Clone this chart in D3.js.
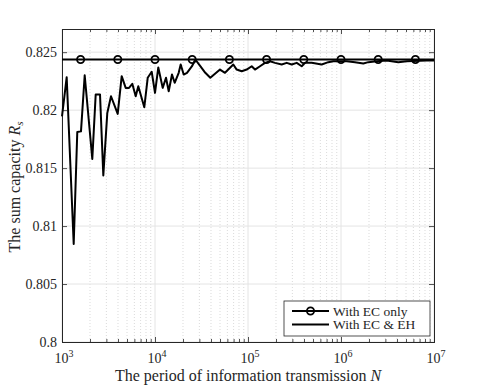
<!DOCTYPE html>
<html>
<head>
<meta charset="utf-8">
<script src="https://cdn.jsdelivr.net/npm/d3@7"></script>
<style>
  body { margin: 0; background: #fff; }
  svg { font-family: "Liberation Serif", "DejaVu Serif", serif; }
</style>
</head>
<body>
<svg id="chart"></svg>
<script>
// sum capacity with EC & EH (jagged curve)
const ehN = [1000, 1123, 1336, 1460, 1600, 1754, 2117, 2303, 2563, 2781, 3070, 3365, 3971, 4384, 4840, 5253,
  5700, 6201, 6612, 7672, 8347, 9216, 10000, 10850, 12100, 13130, 14040, 15230, 16280, 17980, 18890, 20350,
  22080, 24990, 27130, 30700, 34750, 39320, 50000, 56570, 69480, 75580, 85560, 96830, 109600, 118900, 134600,
  152300, 172400, 195100, 230300, 260700, 295100, 334000, 377900, 410200, 484000, 620100, 730100, 826400,
  975400, 1152000, 1414000, 1737000, 1966000, 2420000, 3100000, 4131000, 5087000, 8347000, 10000000];
const ehR = [0.81947, 0.82284, 0.80845, 0.81812, 0.81817, 0.82301, 0.81579, 0.82135, 0.82135, 0.81437, 0.81976,
  0.8212, 0.81968, 0.82293, 0.82192, 0.82192, 0.82227, 0.8212, 0.82206, 0.82025, 0.82279, 0.82331, 0.82149,
  0.82368, 0.82192, 0.82279, 0.82163, 0.82307, 0.82236, 0.82322, 0.82394, 0.82307, 0.82322, 0.82379, 0.82437,
  0.82379, 0.82322, 0.82279, 0.8235, 0.82322, 0.82394, 0.8235, 0.82336, 0.8235, 0.82379, 0.8235, 0.82379,
  0.82408, 0.82422, 0.82408, 0.82394, 0.82408, 0.82394, 0.82408, 0.82379, 0.82408, 0.82408, 0.82394, 0.82414,
  0.82422, 0.82422, 0.82422, 0.82414, 0.82402, 0.82414, 0.82422, 0.82428, 0.82414, 0.82422, 0.82428, 0.82428];

// EC only: flat line, markers every 0.4 decade
const ecN = [1000, 10000000];
const ecR = [0.82437, 0.82437];
const ecMarkerN = [1585, 3981, 10000, 25119, 63096, 158489, 398107, 1000000, 2511886, 6309573];

const yTicks = [0.8, 0.805, 0.81, 0.815, 0.82, 0.825];
const yTickLabels = ['0.8', '0.805', '0.81', '0.815', '0.82', '0.825'];
const xTicks = [1e3, 1e4, 1e5, 1e6, 1e7];
const xTickExp = ['3', '4', '5', '6', '7'];
const legendLabels = ['With EC only', 'With EC & EH'];

const width = 480, height = 385;
const margin = { left: 62, right: 46, top: 29, bottom: 43 };
const plotW = width - margin.left - margin.right;
const plotH = height - margin.top - margin.bottom;

const svg = d3.select('#chart')
  .attr('width', width)
  .attr('height', height);

const x = d3.scaleLog().domain([1e3, 1e7]).range([margin.left, margin.left + plotW]);
const y = d3.scaleLinear().domain([0.8, 0.827]).range([margin.top + plotH, margin.top]);

// minor ticks for the log axis
const minorX = [];
for (let e = 3; e < 7; e++) {
  for (let k = 2; k <= 9; k++) minorX.push(k * Math.pow(10, e));
}

const grid = svg.append('g');
grid.selectAll('.minor')
  .data(minorX)
  .enter()
  .append('line')
  .attr('x1', d => x(d)).attr('x2', d => x(d))
  .attr('y1', margin.top).attr('y2', margin.top + plotH)
  .attr('stroke', '#d0d0d0')
  .attr('stroke-width', 0.8)
  .attr('stroke-dasharray', '1,2');

grid.selectAll('.majorx')
  .data(xTicks)
  .enter()
  .append('line')
  .attr('x1', d => x(d)).attr('x2', d => x(d))
  .attr('y1', margin.top).attr('y2', margin.top + plotH)
  .attr('stroke', '#e4e4e4')
  .attr('stroke-width', 1);

grid.selectAll('.majory')
  .data(yTicks)
  .enter()
  .append('line')
  .attr('x1', margin.left).attr('x2', margin.left + plotW)
  .attr('y1', d => y(d)).attr('y2', d => y(d))
  .attr('stroke', '#e4e4e4')
  .attr('stroke-width', 1);

// axes, ticks pointing inward on all four sides
const axisColor = '#262626';
const xb = svg.append('g')
  .attr('transform', 'translate(0,' + (margin.top + plotH) + ')')
  .call(d3.axisTop(x).tickValues(xTicks).tickSize(5).tickFormat(''));
const xbm = svg.append('g')
  .attr('transform', 'translate(0,' + (margin.top + plotH) + ')')
  .call(d3.axisTop(x).tickValues(minorX).tickSize(3).tickFormat(''));
const xt = svg.append('g')
  .attr('transform', 'translate(0,' + margin.top + ')')
  .call(d3.axisBottom(x).tickValues(xTicks).tickSize(5).tickFormat(''));
const xtm = svg.append('g')
  .attr('transform', 'translate(0,' + margin.top + ')')
  .call(d3.axisBottom(x).tickValues(minorX).tickSize(3).tickFormat(''));
const yl = svg.append('g')
  .attr('transform', 'translate(' + margin.left + ',0)')
  .call(d3.axisRight(y).tickValues(yTicks).tickSize(5).tickFormat(''));
const yr = svg.append('g')
  .attr('transform', 'translate(' + (margin.left + plotW) + ',0)')
  .call(d3.axisLeft(y).tickValues(yTicks).tickSize(5).tickFormat(''));

[xb, xbm, xt, xtm, yl, yr].forEach(g => {
  g.selectAll('path').attr('stroke', axisColor).attr('stroke-width', 1);
  g.selectAll('line').attr('stroke', axisColor).attr('stroke-width', 0.8);
});

// y tick labels
svg.append('g')
  .selectAll('text')
  .data(yTicks)
  .enter()
  .append('text')
  .attr('x', margin.left - 5)
  .attr('y', d => y(d) + 5)
  .attr('text-anchor', 'end')
  .attr('font-size', 14)
  .attr('fill', '#262626')
  .text((d, i) => yTickLabels[i]);

// x tick labels 10^k
const xl = svg.append('g')
  .selectAll('text')
  .data(xTicks)
  .enter()
  .append('text')
  .attr('x', d => x(d) + 2)
  .attr('y', margin.top + plotH + 21)
  .attr('text-anchor', 'middle')
  .attr('font-size', 14)
  .attr('fill', '#262626');
xl.append('tspan').text('10');
xl.append('tspan')
  .attr('dy', -6)
  .attr('font-size', 10)
  .text((d, i) => xTickExp[i]);

// axis titles
const xTitle = svg.append('text')
  .attr('x', margin.left + plotW / 2)
  .attr('y', margin.top + plotH + 39)
  .attr('text-anchor', 'middle')
  .attr('font-size', 16)
  .attr('fill', '#262626');
xTitle.append('tspan').text('The period of information transmission ');
xTitle.append('tspan').attr('font-style', 'italic').text('N');

const yTitle = svg.append('text')
  .attr('transform', 'translate(20,187) rotate(-90)')
  .attr('text-anchor', 'middle')
  .attr('font-size', 16)
  .attr('fill', '#262626');
yTitle.append('tspan').text('The sum capacity ');
yTitle.append('tspan').attr('font-style', 'italic').text('R');
yTitle.append('tspan').attr('font-style', 'italic').attr('font-size', 11).attr('dy', 3).text('s');

// lines
const lineFunc = d3.line()
  .x(d => x(d[0]))
  .y(d => y(d[1]));

const plot = svg.append('g');

plot.append('path')
  .attr('fill', 'none')
  .attr('stroke', '#000')
  .attr('stroke-width', 2)
  .attr('stroke-linejoin', 'round')
  .attr('d', lineFunc(ehN.map((n, i) => [n, ehR[i]])));

plot.append('path')
  .attr('fill', 'none')
  .attr('stroke', '#000')
  .attr('stroke-width', 2)
  .attr('d', lineFunc(ecN.map((n, i) => [n, ecR[i]])));

plot.selectAll('.marker')
  .data(ecMarkerN)
  .enter()
  .append('circle')
  .attr('cx', d => x(d))
  .attr('cy', y(ecR[0]))
  .attr('r', 3.6)
  .attr('fill', 'none')
  .attr('stroke', '#000')
  .attr('stroke-width', 1.8);

// legend
const lg = svg.append('g').attr('transform', 'translate(284,301)');
lg.append('rect')
  .attr('width', 146)
  .attr('height', 35)
  .attr('fill', '#fff')
  .attr('stroke', '#262626')
  .attr('stroke-width', 0.8);

const rows = lg.selectAll('.row')
  .data(legendLabels)
  .enter()
  .append('g')
  .attr('transform', (d, i) => 'translate(0,' + (10 + i * 13.5) + ')');
rows.append('line')
  .attr('x1', 8).attr('x2', 45)
  .attr('y1', 0).attr('y2', 0)
  .attr('stroke', '#000')
  .attr('stroke-width', 2);
rows.filter((d, i) => i === 0)
  .append('circle')
  .attr('cx', 26.5).attr('cy', 0).attr('r', 3.6)
  .attr('fill', 'none')
  .attr('stroke', '#000')
  .attr('stroke-width', 1.8);
rows.append('text')
  .attr('x', 49)
  .attr('y', 4.5)
  .attr('font-size', 13.5)
  .attr('fill', '#262626')
  .text(d => d);
</script>
</body>
</html>
